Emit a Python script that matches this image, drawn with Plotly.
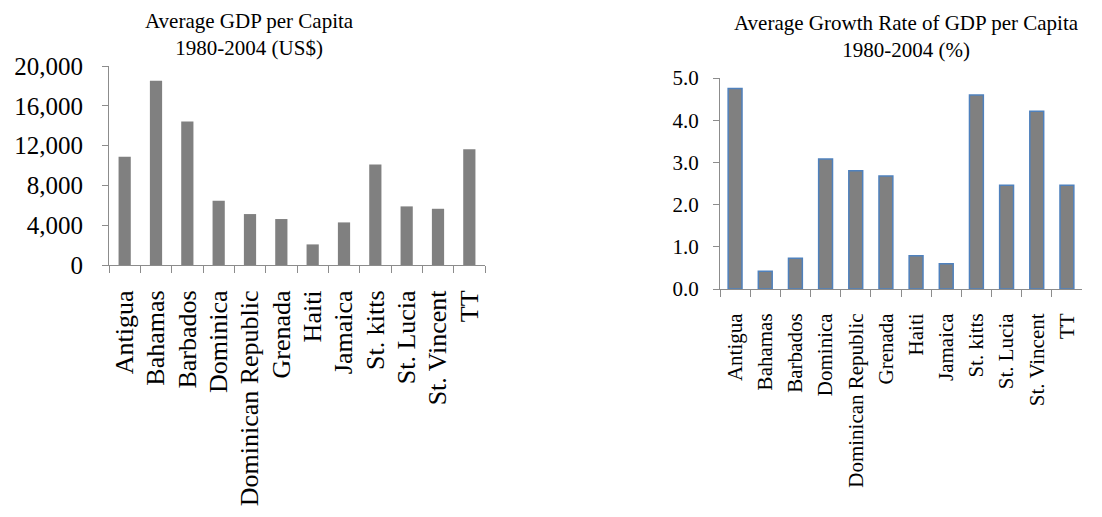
import plotly.graph_objects as go

countries = ["Antigua", "Bahamas", "Barbados", "Dominica", "Dominican Republic",
             "Grenada", "Haiti", "Jamaica", "St. kitts", "St. Lucia", "St. Vincent", "TT"]
gdp_per_capita = [10870, 18530, 14410, 6450, 5120, 4620, 2070, 4280, 10100, 5890, 5650, 11640]
growth_rate = [4.75, 0.42, 0.73, 3.08, 2.80, 2.68, 0.79, 0.60, 4.60, 2.46, 4.21, 2.46]

left_title = "Average GDP per Capita<br>1980-2004 (US$)"
right_title = "Average Growth Rate of GDP per Capita<br>1980-2004 (%)"
gdp_ticks = [0, 4000, 8000, 12000, 16000, 20000]
growth_ticks = [0, 1, 2, 3, 4, 5]

W, H = 1102, 517
OFF = 8  # page body margin offset
FONT = "Liberation Serif, Times New Roman, serif"
AXIS_COLOR = "#8c8c8c"

fig = go.Figure()
fig.add_trace(go.Bar(x=countries, y=gdp_per_capita, marker=dict(color="#808080", line=dict(width=0)),
                     xaxis="x", yaxis="y", showlegend=False, width=0.39))
fig.add_trace(go.Bar(x=countries, y=growth_rate, marker=dict(color="#808080", line=dict(color="#4f81bd", width=1.5)),
                     xaxis="x2", yaxis="y2", showlegend=False, width=0.46))

def px_x(v):
    return (v - OFF) / W

def px_y(v):
    return 1 - (v - OFF) / H

common_x = dict(type="category", showline=True, linecolor=AXIS_COLOR, linewidth=1,
                ticks="outside", tickson="boundaries", ticklen=7, tickcolor=AXIS_COLOR,
                tickangle=-90, showgrid=False, zeroline=False, fixedrange=True, automargin=False)
common_y = dict(showline=True, linecolor=AXIS_COLOR, linewidth=1, ticks="outside", ticklen=6,
                tickcolor=AXIS_COLOR, showgrid=False, zeroline=False, fixedrange=True, automargin=False)

fig.update_layout(
    width=W, height=H,
    margin=dict(l=0, r=0, t=0, b=0, autoexpand=False),
    paper_bgcolor="white", plot_bgcolor="white",
    font=dict(family=FONT, color="black"),
    xaxis=dict(common_x, domain=[px_x(109), px_x(485)], anchor="y",
               tickfont=dict(size=26, family=FONT, color="black"), ticklabelstandoff=14),
    yaxis=dict(common_y, domain=[px_y(265), px_y(66)], anchor="x", range=[0, 20000],
               tickvals=gdp_ticks, tickformat=",d",
               tickfont=dict(size=25, family=FONT, color="black"), ticklabelstandoff=14),
    xaxis2=dict(common_x, domain=[px_x(720), px_x(1082)], anchor="y2",
                tickfont=dict(size=21, family=FONT, color="black"), ticklabelstandoff=15),
    yaxis2=dict(common_y, domain=[px_y(289), px_y(78)], anchor="x2", range=[0, 5],
                tickvals=growth_ticks, tickformat=".1f",
                tickfont=dict(size=21, family=FONT, color="black"), ticklabelstandoff=10),
    annotations=[
        dict(text=left_title, x=px_x(249), y=1.0, xref="paper", yref="paper",
             xanchor="center", yanchor="top", showarrow=False, align="center",
             borderpad=0, font=dict(size=21, family=FONT, color="black")),
        dict(text=right_title, x=px_x(906), y=px_y(9), xref="paper", yref="paper",
             xanchor="center", yanchor="top", showarrow=False, align="center",
             font=dict(size=21, family=FONT, color="black")),
    ],
)

fig.write_html("out.html")
